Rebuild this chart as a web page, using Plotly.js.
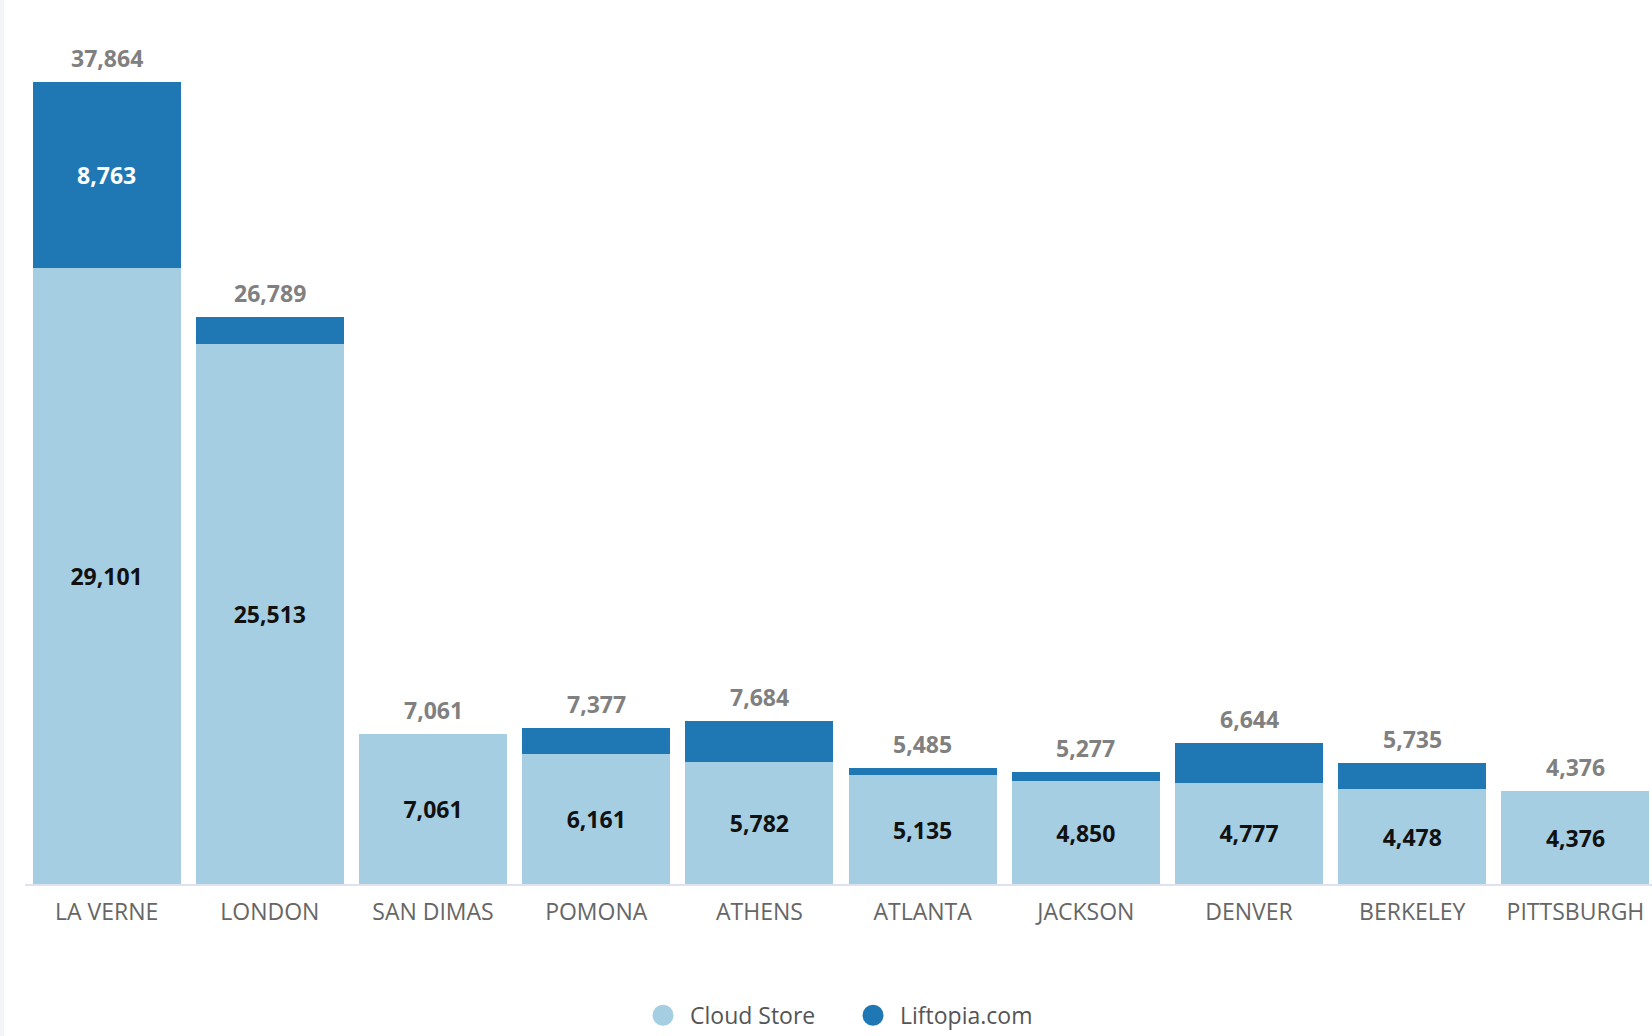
<!DOCTYPE html>
<html>
<head>
<meta charset="utf-8">
<script src="https://cdn.plot.ly/plotly-3.0.1.min.js"></script>
<style>
  html, body { margin: 0; padding: 0; background: #ffffff; }
  #chart { width: 1652px; height: 1036px; }
</style>
</head>
<body>
<div id="chart"></div>
<script>
const categories = ['LA VERNE', 'LONDON', 'SAN DIMAS', 'POMONA', 'ATHENS', 'ATLANTA', 'JACKSON', 'DENVER', 'BERKELEY', 'PITTSBURGH'];
const cloudStore = [29101, 25513, 7061, 6161, 5782, 5135, 4850, 4777, 4478, 4376];
const liftopia = [8763, 1276, 0, 1216, 1902, 350, 427, 1867, 1257, 0];
const seriesNames = ['Cloud Store', 'Liftopia.com'];

const lightColor = '#a6cee3';
const darkColor = '#1f78b4';
const FONT = '"Open Sans", "Noto Sans", sans-serif';

const fmt = v => v.toLocaleString('en-US');
const totals = cloudStore.map((v, i) => v + liftopia[i]);

const cloudText = cloudStore.map(v => v > 0 ? fmt(v) : '');
const liftText = liftopia.map(v => v >= 5000 ? fmt(v) : '');

const traces = [
  {
    type: 'bar', x: categories, y: cloudStore, name: seriesNames[0],
    marker: { color: lightColor }, showlegend: false,
    text: cloudText, textposition: 'inside', insidetextanchor: 'middle',
    textfont: { family: FONT, size: 23, color: '#111111', weight: 700 },
    constraintext: 'none', hoverinfo: 'x+y+name'
  },
  {
    type: 'bar', x: categories, y: liftopia, name: seriesNames[1],
    marker: { color: darkColor }, showlegend: false,
    text: liftText, textposition: 'inside', insidetextanchor: 'middle',
    textfont: { family: FONT, size: 23, color: '#ffffff', weight: 700 },
    constraintext: 'none', hoverinfo: 'x+y+name'
  },
  {
    type: 'scatter', mode: 'markers', x: [categories[0]], y: [null], name: seriesNames[0],
    marker: { color: lightColor, size: 16, symbol: 'circle', line: { color: lightColor, width: 5 } },
    hoverinfo: 'skip'
  },
  {
    type: 'scatter', mode: 'markers', x: [categories[0]], y: [null], name: seriesNames[1],
    marker: { color: darkColor, size: 16, symbol: 'circle', line: { color: darkColor, width: 5 } },
    hoverinfo: 'skip'
  }
];

const annotations = categories.map((c, i) => ({
  x: c, y: totals[i], xref: 'x', yref: 'y',
  text: fmt(totals[i]), showarrow: false,
  yanchor: 'bottom', xanchor: 'center', yshift: 6,
  font: { family: FONT, size: 23, color: '#808080', weight: 700 }
}));

const layout = {
  width: 1652, height: 1036,
  margin: { l: 25, r: 0, t: 37, b: 152, pad: 0 },
  paper_bgcolor: '#ffffff', plot_bgcolor: '#ffffff',
  barmode: 'stack', bargap: 0.093,
  font: { family: FONT, color: '#666666' },
  xaxis: {
    type: 'category', range: [-0.5, 9.469],
    showline: true, linecolor: '#dde1f0', linewidth: 2,
    showgrid: false, zeroline: false, ticks: '',
    ticklabelstandoff: 6,
    tickfont: { family: FONT, size: 23, color: '#666666' },
    fixedrange: true
  },
  yaxis: {
    range: [0, 40000], visible: false, showgrid: false, zeroline: false, fixedrange: true
  },
  showlegend: true,
  legend: {
    orientation: 'h', xref: 'container', yref: 'container',
    x: 0.385, xanchor: 'left', y: 0.02, yanchor: 'middle',
    itemwidth: 44, entrywidth: 151, entrywidthmode: 'pixels',
    font: { family: FONT, size: 23, color: '#555555' },
    bgcolor: 'rgba(0,0,0,0)', traceorder: 'normal'
  },
  shapes: [{
    type: 'rect', xref: 'paper', yref: 'paper',
    x0: -25 / 1627, x1: -21 / 1627, y0: -152 / 847, y1: 1 + 37 / 847,
    fillcolor: '#f3f5f9', line: { width: 0 }, layer: 'below'
  }],
  annotations: annotations
};

Plotly.newPlot('chart', traces, layout, { displayModeBar: false, staticPlot: false });
</script>
</body>
</html>
